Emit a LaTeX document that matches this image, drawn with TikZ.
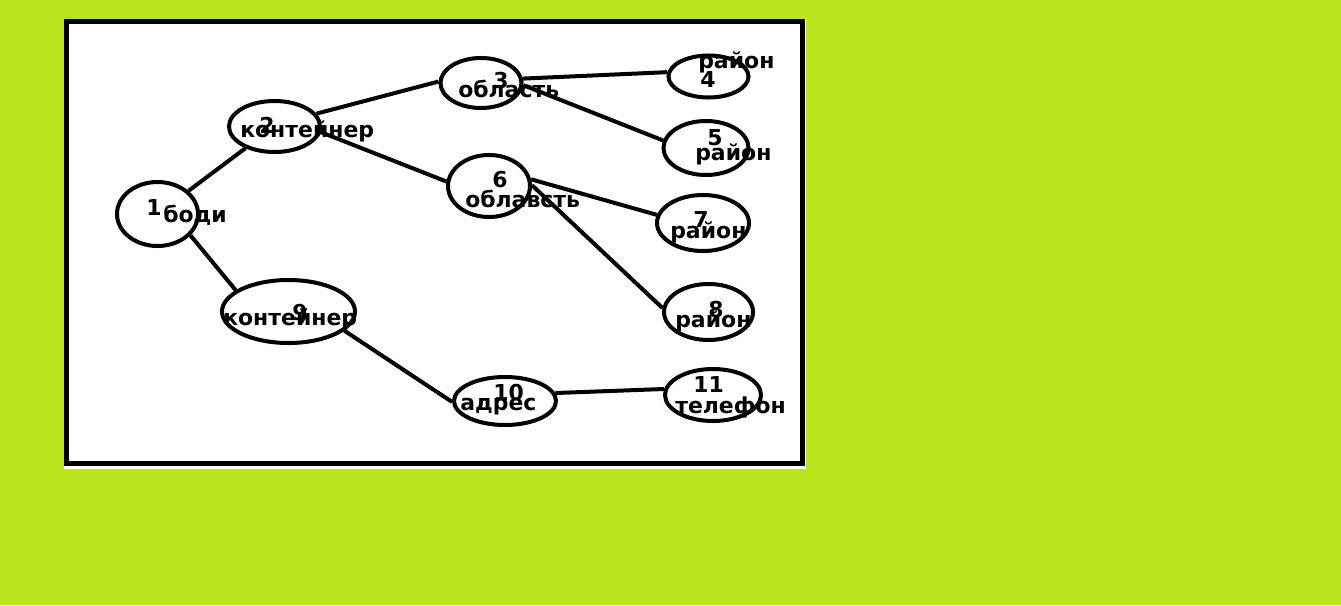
\documentclass[tikz,border=0pt]{standalone}
\usepackage{fontspec}
\setmainfont{DejaVu Sans}
\usetikzlibrary{shapes.geometric}
\definecolor{limebg}{RGB}{184,229,30}
\tikzset{
	oval/.style={ellipse, draw=black, line width=2.85pt, inner sep=0pt},
	txt/.style={anchor=base west, inner sep=0pt, font=\fontsize{15.6}{18}\selectfont\bfseries},
	link/.style={line width=2.85pt}
}

\begin{document}
\begin{tikzpicture}[x=0.025cm, y=-0.025cm]
		\useasboundingbox (0,0) rectangle (1341,605);
		\fill[limebg] (0,0) rectangle (1341,605);
		\fill[white] (64,19) rectangle (806,469);
		\draw[line width=3.56pt] (66.5,21.5) rectangle (802.5,463.5);
		
		\node[oval, minimum width=2.025cm, minimum height=1.6cm] (n1) at (157.5,214) {};
		\node[oval, minimum width=2.275cm, minimum height=1.275cm] (n2) at (274.5,126.5) {};
		\node[oval, minimum width=2.025cm, minimum height=1.25cm] (n3) at (481,83) {};
		\node[oval, minimum width=2.0cm, minimum height=1.05cm] (n4) at (708.5,76.5) {};
		\node[oval, minimum width=2.125cm, minimum height=1.35cm] (n5) at (706,148) {};
		\node[oval, minimum width=2.05cm, minimum height=1.55cm] (n6) at (489,186) {};
		\node[oval, minimum width=2.3cm, minimum height=1.4cm] (n7) at (703,223) {};
		\node[oval, minimum width=2.225cm, minimum height=1.4cm] (n8) at (708.5,312) {};
		\node[oval, minimum width=3.325cm, minimum height=1.575cm] (n9) at (288.5,311.5) {};
		\node[oval, minimum width=2.55cm, minimum height=1.2cm] (n10) at (505,401) {};
		\node[oval, minimum width=2.4cm, minimum height=1.3cm] (n11) at (713,395) {};
		
		\draw[link] (n1) -- (n2);
		\draw[link] (n1.-33) -- (n9.158);
		\draw[link] (n2.17) -- (n3.178);
		\draw[link] (n2.-7) -- (n6.174);
		\draw[link] (n3.6) -- (n4.174);
		\draw[link] (n3.-3) -- (n5.170);
		\draw[link] (n6.9) -- (n7.170);
		\draw[link] (n6.1) -- (n8.175);
		\draw[link] (n9.-19) -- (n10.181);
		\draw[link] (n10.9) -- (n11.173);
		
		\node[txt] (num1) at (146,215) {1};
		\node[txt] (lbl1) at (163,222) {боди};
		\node[txt] (num2) at (259,133) {2};
		\node[txt] (lbl2) at (240,137) {контейнер};
		\node[txt] (num3) at (493,88) {3};
		\node[txt] (lbl3) at (458,97) {область};
		\node[txt] (num4) at (700,87) {4};
		\node[txt] (lbl4) at (698,68) {район};
		\node[txt] (num5) at (707,145) {5};
		\node[txt] (lbl5) at (695,160) {район};
		\node[txt] (num6) at (492,187) {6};
		\node[txt] (lbl6) at (465,207) {облавсть};
		\node[txt] (num7) at (693,227) {7};
		\node[txt] (lbl7) at (670,238) {район};
		\node[txt] (num8) at (708,317) {8};
		\node[txt] (lbl8) at (675,327) {район};
		\node[txt] (num9) at (292,320) {9};
		\node[txt] (lbl9) at (223,325) {контейнер};
		\node[txt] (num10) at (493,400) {10};
		\node[txt] (lbl10) at (460,410) {адрес};
		\node[txt] (num11) at (693,392) {11};
		\node[txt] (lbl11) at (675,413) {телефон};
	\end{tikzpicture}
\end{document}
